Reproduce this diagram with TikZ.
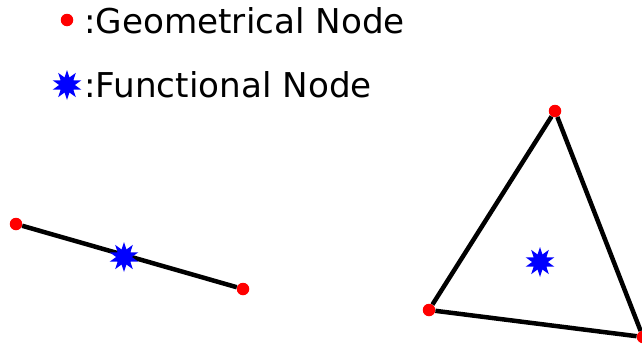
\documentclass[tikz,border=0pt]{standalone}
\usepackage{fontspec}
\setmainfont{DejaVu Sans}
\usetikzlibrary{shapes.geometric}
\begin{document}
\begin{tikzpicture}[x=1pt,y=-1pt,
  geo/.style={circle,fill=red,inner sep=0pt,minimum size=12.5pt},
  fun/.style={star,star points=10,star point ratio=1.9,fill=blue,inner sep=0pt,minimum size=30pt},
  edge/.style={line width=4.5pt,black},
  lbl/.style={anchor=base west,inner sep=0pt,font=\fontsize{34.2}{40}\selectfont}]
\useasboundingbox (0,0) rectangle (642,348);
% legend
\node[geo] (lg) at (67,20) {};
\node[lbl] (lgt) at (84,33) {:Geometrical Node};
\node[fun] (lf) at (67,85) {};
\node[lbl] (lft) at (84,97) {:Functional Node};
% line element
\node[geo] (a) at (16,224) {};
\node[geo] (b) at (243,289) {};
\draw[edge] (a) -- (b);
\node[fun] (s1) at (124,257) {};
% triangle element
\node[geo] (t1) at (555,111) {};
\node[geo] (t2) at (429,310) {};
\node[geo] (t3) at (643,337) {};
\draw[edge] (t1) -- (t2) -- (t3) -- (t1);
\node[fun] (s2) at (540,262) {};
\end{tikzpicture}
\end{document}
